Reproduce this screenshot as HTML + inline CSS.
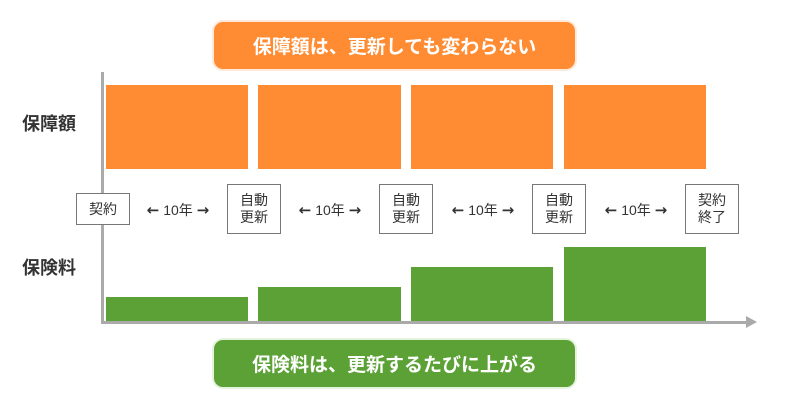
<!DOCTYPE html>
<html><head><meta charset="utf-8"><style>
body{margin:0;width:790px;height:412px;background:#fff;position:relative;overflow:hidden;font-family:"Liberation Sans","Noto Sans CJK JP",sans-serif;}
.a{position:absolute}
.o{background:#ff8c33}
.g{background:#5ca135}
.box{position:absolute;border:1px solid #777;background:#fff;color:#333;font-size:14px;line-height:17px;text-align:center;display:flex;align-items:center;justify-content:center;box-sizing:border-box}
.lab{position:absolute;font-size:18px;font-weight:bold;color:#333}
.yr{position:absolute;font-size:14px;color:#333;top:200px;width:90px;text-align:center}
.yr b{font-family:"DejaVu Sans",sans-serif;font-size:15px;font-weight:bold}
.pill{position:absolute;left:214px;width:361px;height:47px;border-radius:9px;color:#fff;font-size:19px;font-weight:bold;display:flex;align-items:center;justify-content:center;box-shadow:0 0 0 2px rgba(255,200,160,0.4)}
</style></head><body>
<div class="pill o" style="top:22px">保障額は、更新しても変わらない</div>
<div class="pill g" style="top:340px;background:#5ca135;box-shadow:0 0 0 2px rgba(190,225,170,0.4)">保険料は、更新するたびに上がる</div>
<div class="lab" style="left:22px;top:110px">保障額</div>
<div class="lab" style="left:22px;top:254px">保険料</div>
<div class="a o" style="left:106px;top:85px;width:142px;height:84px"></div>
<div class="a o" style="left:258px;top:85px;width:143px;height:84px"></div>
<div class="a o" style="left:411px;top:85px;width:142px;height:84px"></div>
<div class="a o" style="left:564px;top:85px;width:142px;height:84px"></div>
<div class="a g" style="left:106px;top:297px;width:142px;height:24px"></div>
<div class="a g" style="left:258px;top:287px;width:143px;height:34px"></div>
<div class="a g" style="left:411px;top:267px;width:142px;height:54px"></div>
<div class="a g" style="left:564px;top:247px;width:142px;height:74px"></div>
<div class="a" style="left:101px;top:72px;width:3px;height:252px;background:#aaa"></div>
<div class="a" style="left:101px;top:321px;width:648px;height:3px;background:#aaa"></div>
<div class="a" style="left:746px;top:316px;width:0;height:0;border-left:11px solid #aaa;border-top:6.5px solid transparent;border-bottom:6.5px solid transparent"></div>
<div class="box" style="left:76px;top:193px;width:54px;height:32px">契約</div>
<div class="box" style="left:227px;top:184px;width:54px;height:50px">自動<br>更新</div>
<div class="box" style="left:379px;top:184px;width:54px;height:50px">自動<br>更新</div>
<div class="box" style="left:532px;top:184px;width:54px;height:50px">自動<br>更新</div>
<div class="box" style="left:685px;top:184px;width:54px;height:50px">契約<br>終了</div>
<div class="yr" style="left:133px"><b>←</b> 10年 <b>→</b></div>
<div class="yr" style="left:285px"><b>←</b> 10年 <b>→</b></div>
<div class="yr" style="left:438px"><b>←</b> 10年 <b>→</b></div>
<div class="yr" style="left:591px"><b>←</b> 10年 <b>→</b></div>
</body></html>
